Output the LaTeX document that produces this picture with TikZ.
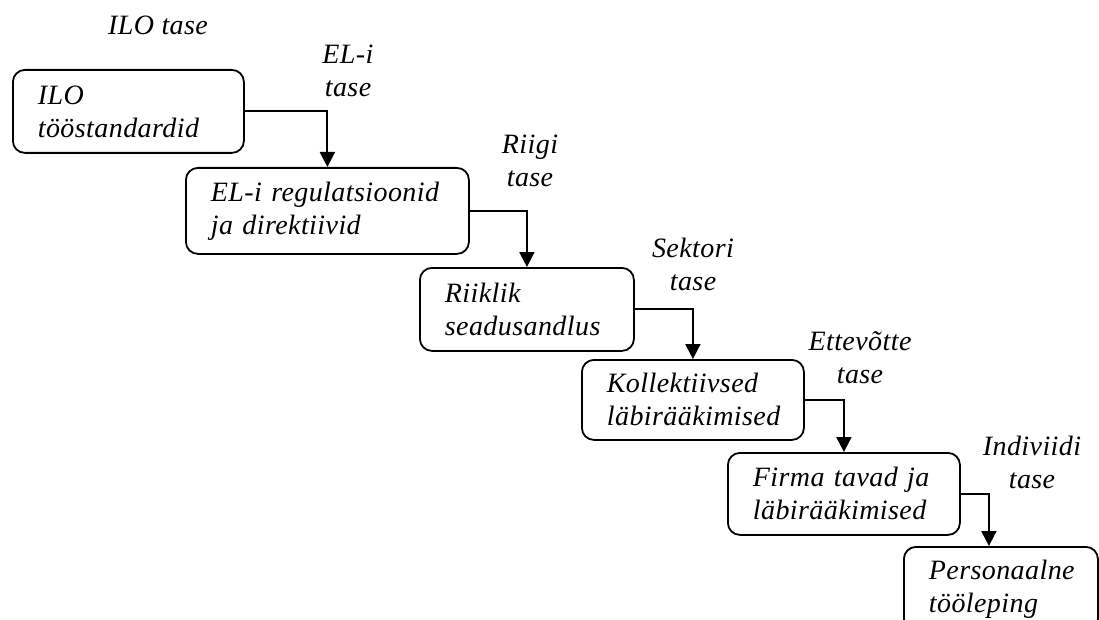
\documentclass[tikz,border=0pt]{standalone}
\usepackage{fontspec}
\setmainfont{Liberation Serif}[LetterSpace=1.5]
\usetikzlibrary{arrows.meta}
\begin{document}
\begin{tikzpicture}[x=1pt,y=-1pt,
  txt/.style={font=\itshape\fontsize{28}{33}\selectfont},
  box/.style={txt, draw, line width=1.8pt, rounded corners=12pt, anchor=north west,
    inner xsep=25pt, inner ysep=0pt, align=left},
  lvl/.style={txt, align=center, anchor=base, inner sep=0pt},
  arr/.style={line width=2pt, -{Triangle[length=15pt,width=15pt]}}]
\useasboundingbox (0,0) rectangle (1099,620);
\node[box, text width=181pt, minimum height=83pt] (b1) at (12,69) {\mbox{ILO}\\\mbox{tööstandardid}};
\node[box, text width=233pt, minimum height=86pt] (b2) at (185,167) {\mbox{EL-i regulatsioonid}\\\mbox{ja direktiivid}};
\node[box, text width=164pt, minimum height=83pt] (b3) at (419,267) {\mbox{Riiklik}\\\mbox{seadusandlus}};
\node[box, text width=172pt, minimum height=80pt] (b4) at (581,359) {\mbox{Kollektiivsed}\\\mbox{läbirääkimised}};
\node[box, text width=182pt, minimum height=82pt] (b5) at (727,452) {\mbox{Firma tavad ja}\\\mbox{läbirääkimised}};
\node[box, text width=144pt, minimum height=84pt] (b6) at (903,546) {\mbox{Personaalne}\\\mbox{tööleping}};

\node[txt, anchor=base west, inner sep=0pt] (t0) at (108,35) {ILO tase};
\node[lvl] (t1) at (348,97) {EL-i\\tase};
\node[lvl] (t2) at (530,187) {Riigi\\tase};
\node[lvl] (t3) at (693,290) {Sektori\\tase};
\node[lvl] (t4) at (860,383) {Ettevõtte\\tase};
\node[lvl] (t5) at (1032,488) {Indiviidi\\tase};

\draw[arr] (b1.east) -| (b2.north);
\draw[arr] (b2.east) -| (b3.north);
\draw[arr] (b3.east) -| (b4.north);
\draw[arr] (b4.east) -| (b5.north);
\coordinate (c6) at ([xshift=-12pt]b6.north);
\draw[arr] (b5.east) -| (c6);
\end{tikzpicture}
\end{document}
